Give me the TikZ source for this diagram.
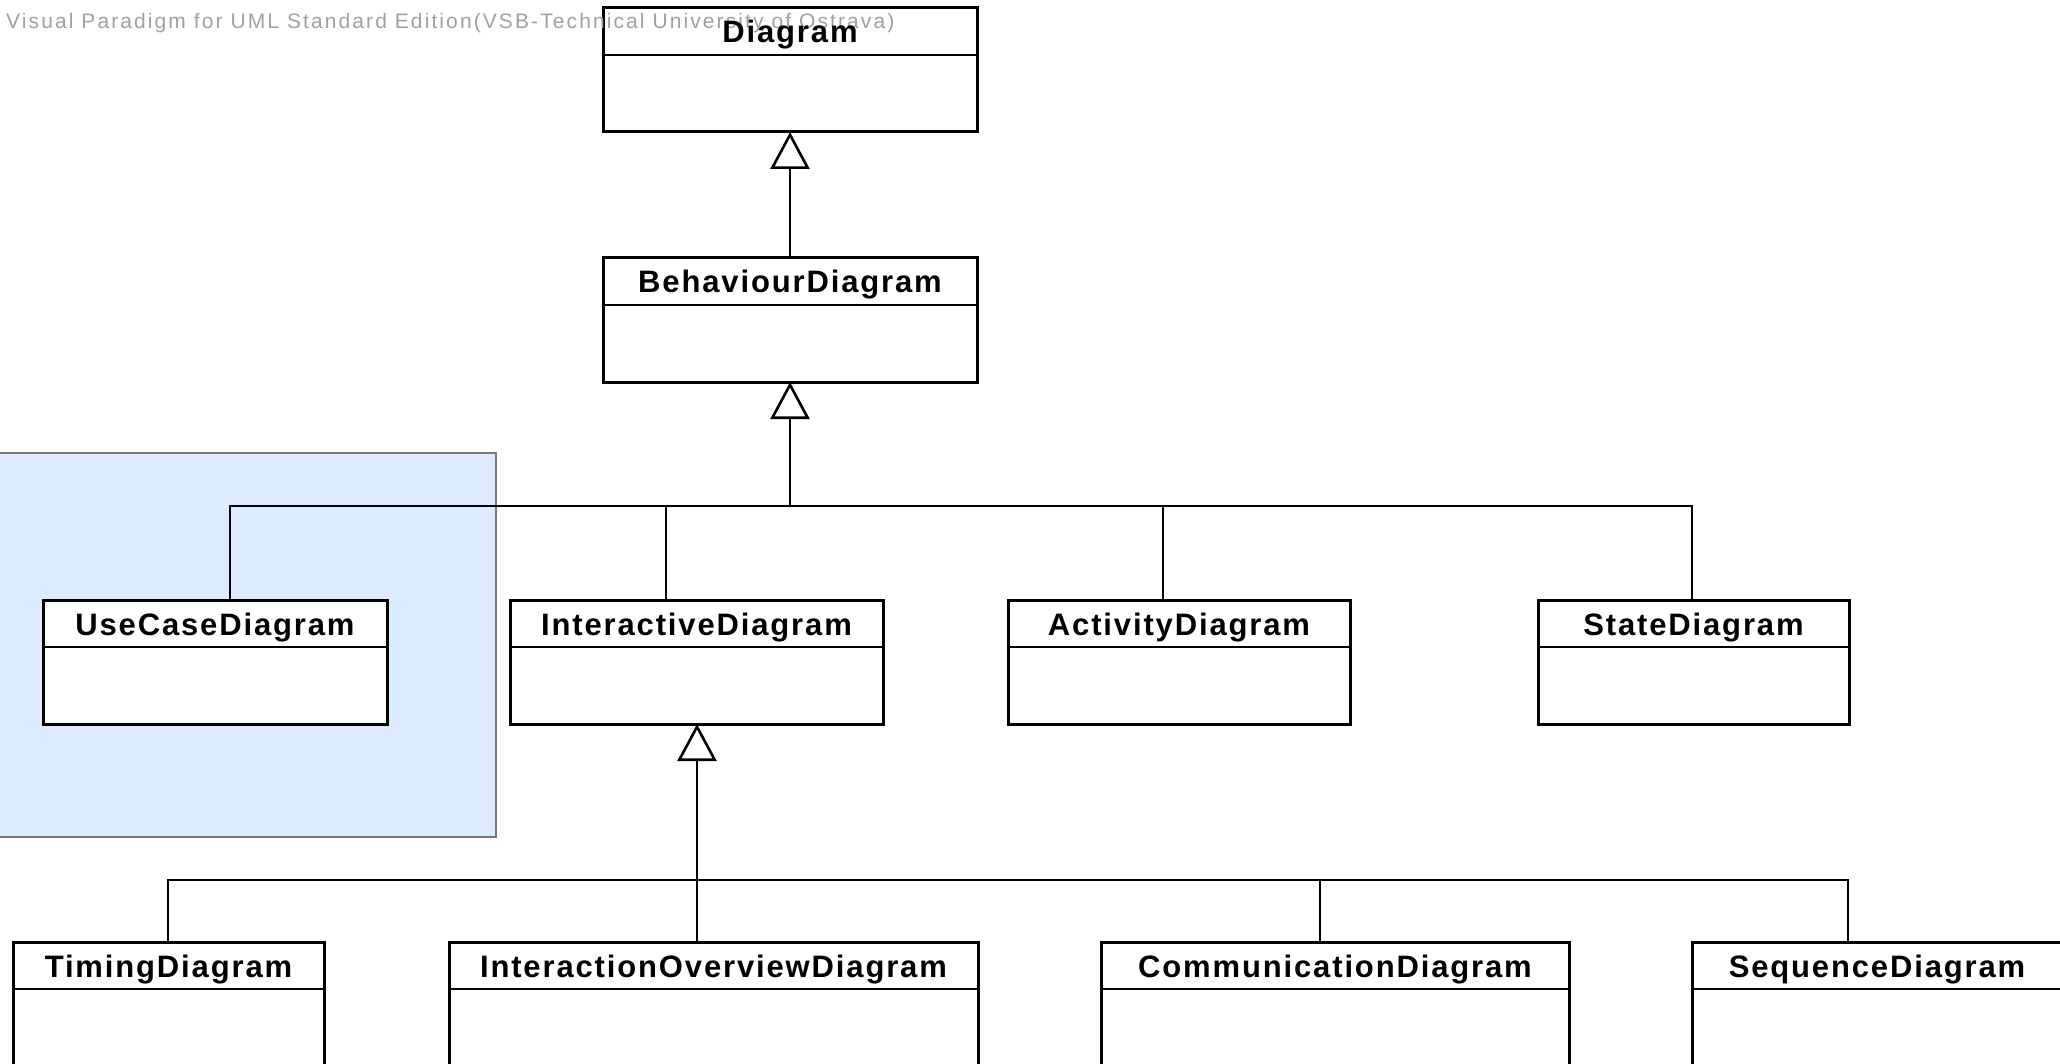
\documentclass[tikz,border=0pt]{standalone}
\usepackage{fontspec}
\usetikzlibrary{arrows.meta}
\newfontfamily\ttlfont[LetterSpace=6]{Liberation Sans}
\newfontfamily\wmfont[LetterSpace=10]{Liberation Sans}
\definecolor{selblue}{RGB}{220,235,253}
\definecolor{selframe}{RGB}{120,120,120}
\definecolor{wmgray}{RGB}{160,160,160}
\tikzset{
  classbox/.style={draw, fill=white, line width=3pt, anchor=north west,
    outer sep=0pt, inner sep=0pt, minimum height=124pt},
  divider/.style={line width=2.8pt},
  ttl/.style={font=\ttlfont\bfseries\fontsize{31}{36}\selectfont, anchor=base, inner sep=0pt},
  conn/.style={line width=2.6pt},
  gen/.style={conn, -{Triangle[open, length=37pt, width=39pt]}},
}
% one class: name, left, top, width
\newcommand\umlclass[4]{%
  \node[classbox, minimum width=#4pt] (#1) at (#2,#3) {};
  \draw[divider] ([yshift=-47pt]#1.north west) -- ([yshift=-47pt]#1.north east);
}
\newcommand\umltitle[2]{%
  \node[ttl] (#1-t) at ([yshift=-35pt]#1.north) {#2};
}
\begin{document}
\begin{tikzpicture}[x=1pt, y=-1pt, line join=miter]
\useasboundingbox (0,0) rectangle (2060,1064);
\clip (0,0) rectangle (2060,1064);

% selection area behind the use case class
\draw[fill=selblue, draw=selframe, line width=1.2pt] (-5,453) rectangle (496,837);

% classes
\umlclass{diag}{603}{8}{374}
\umlclass{beh}{603}{258}{374}
\umlclass{uc}{43}{600}{344}
\umlclass{ia}{510}{600}{373}
\umlclass{act}{1008}{600}{342}
\umlclass{st}{1538}{600}{311}
\umlclass{tim}{13}{942}{311}
\umlclass{io}{449}{942}{529}
\umlclass{com}{1101}{942}{468}
\umlclass{seq}{1692}{942}{370}

% tool watermark
\node[font=\wmfont\fontsize{21}{25}\selectfont, text=wmgray, anchor=base west, inner sep=0pt]
  (wm) at (6,29) {Visual Paradigm for UML Standard Edition(VSB-Technical University of Ostrava)};

% class names
\umltitle{diag}{Diagram}
\umltitle{beh}{BehaviourDiagram}
\umltitle{uc}{UseCaseDiagram}
\umltitle{ia}{InteractiveDiagram}
\umltitle{act}{ActivityDiagram}
\umltitle{st}{StateDiagram}
\umltitle{tim}{TimingDiagram}
\umltitle{io}{InteractionOverviewDiagram}
\umltitle{com}{CommunicationDiagram}
\umltitle{seq}{SequenceDiagram}

% junction points of the generalization trees
\coordinate (k-uc) at (230,506);
\coordinate (k-ia) at (666,506);
\coordinate (j1) at (790,506);
\coordinate (k-act) at (1163,506);
\coordinate (k-st) at (1692,506);
\coordinate (k-tim) at (168,880);
\coordinate (j2) at (697,880);
\coordinate (k-com) at (1320,880);
\coordinate (k-seq) at (1848,880);

% generalizations
\draw[gen] (beh.north) -- (diag.south);
\draw[gen] (j1) -- (beh.south);
\draw[conn] (uc.north -| k-uc) -- (k-uc) -- (k-st) -- (st.north -| k-st);
\draw[conn] (ia.north -| k-ia) -- (k-ia);
\draw[conn] (act.north -| k-act) -- (k-act);

\draw[gen] (j2) -- (ia.south -| j2);
\draw[conn] (tim.north -| k-tim) -- (k-tim) -- (k-seq) -- (seq.north -| k-seq);
\draw[conn] (io.north -| j2) -- (j2);
\draw[conn] (com.north -| k-com) -- (k-com);
\end{tikzpicture}
\end{document}
